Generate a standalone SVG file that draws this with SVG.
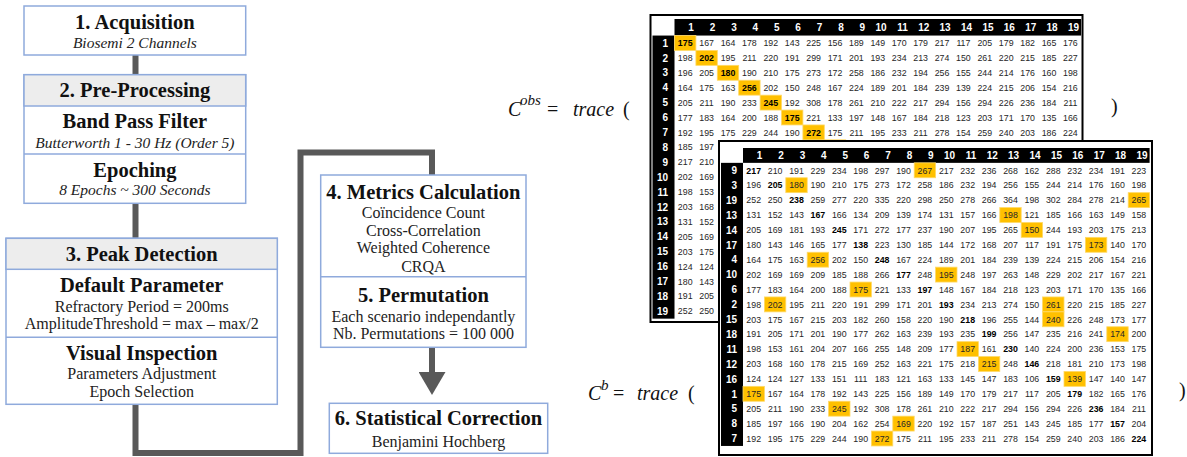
<svg xmlns="http://www.w3.org/2000/svg" width="1187" height="457" viewBox="0 0 1187 457">
<style>
.bx{fill:#fff;stroke:#8FAADC;stroke-width:1.5}
.hd{fill:#EDEDED;stroke:#8FAADC;stroke-width:1.5}
.dv{stroke:#8FAADC;stroke-width:1.5}
.t{font-family:"Liberation Serif",serif;font-weight:bold;font-size:20.5px;text-anchor:middle;fill:#111}
.s{font-family:"Liberation Serif",serif;font-style:italic;font-size:15.5px;text-anchor:middle;fill:#222}
.r{font-family:"Liberation Serif",serif;font-size:16px;text-anchor:middle;fill:#222}
.f{font-family:"Liberation Serif",serif;font-size:20px;fill:#111}
.i{font-style:italic}
.conn{stroke:#595959;stroke-width:6;fill:none;stroke-linejoin:miter}
.frame{fill:#fff;stroke:#000;stroke-width:2}
.blk{fill:#000}
.hl{fill:#FFC000;stroke:#FFD966;stroke-width:0.8}
.v{font-family:"Liberation Sans",Arial,sans-serif;font-size:8.8px;fill:#262626;text-anchor:middle}
.b{font-weight:bold;fill:#000}
.h{font-family:"Liberation Sans",Arial,sans-serif;font-weight:bold;font-size:10px;fill:#fff;text-anchor:end}
</style>
<defs>
<marker id="ah" markerUnits="userSpaceOnUse" viewBox="0 0 23 27" refX="0" refY="13.5" markerWidth="23" markerHeight="27" orient="auto">
<path d="M0,0 L23,13.5 L0,27 z" fill="#595959"/>
</marker>
</defs>

<g id="connectors">
<path class="conn" d="M135.5 55 V74.7"/>
<path class="conn" d="M135.5 203.3 V238.3"/>
<path class="conn" d="M135.5 404.3 V453 H300.5 V152.5 H432 V175"/>
<path class="conn" d="M432 347.3 V372" marker-end="url(#ah)"/>
</g>

<g id="node1">
<rect class="bx" x="24" y="6" width="221.7" height="49"/>
<text class="t" x="134.9" y="28.5">1. Acquisition</text>
<text class="s" x="134.9" y="47.5">Biosemi 2 Channels</text>
</g>

<g id="node2">
<rect class="bx" x="24" y="74.7" width="221.7" height="128.6"/>
<rect class="hd" x="24" y="74.7" width="221.7" height="31.3"/>
<line class="dv" x1="24" y1="154" x2="245.7" y2="154"/>
<text class="t" x="134.9" y="96.7">2. Pre-Processing</text>
<text class="t" x="134.9" y="128.3">Band Pass Filter</text>
<text class="s" x="134.9" y="147.5">Butterworth 1 - 30 Hz (Order 5)</text>
<text class="t" x="134.9" y="176.7">Epoching</text>
<text class="s" x="134.9" y="195">8 Epochs ~ 300 Seconds</text>
</g>

<g id="node3">
<rect class="bx" x="6" y="238.3" width="271.3" height="166"/>
<rect class="hd" x="6" y="238.3" width="271.3" height="31"/>
<line class="dv" x1="6" y1="337.3" x2="277.3" y2="337.3"/>
<text class="t" x="141.7" y="261">3. Peak Detection</text>
<text class="t" x="141.7" y="292.3">Default Parameter</text>
<text class="r" x="141.7" y="311.7">Refractory Period = 200ms</text>
<text class="r" x="141.7" y="329">AmplitudeThreshold = max – max/2</text>
<text class="t" x="141.7" y="360">Visual Inspection</text>
<text class="r" x="141.7" y="379">Parameters Adjustment</text>
<text class="r" x="141.7" y="397">Epoch Selection</text>
</g>

<g id="node4">
<rect class="bx" x="320.7" y="175" width="205.3" height="172.3"/>
<line class="dv" x1="320.7" y1="276.7" x2="526" y2="276.7"/>
<text class="t" x="423.4" y="199.3">4. Metrics Calculation</text>
<text class="r" x="423.4" y="218.3">Coïncidence Count</text>
<text class="r" x="423.4" y="235.7">Cross-Correlation</text>
<text class="r" x="423.4" y="253.3">Weighted Coherence</text>
<text class="r" x="423.4" y="271.7">CRQA</text>
<text class="t" x="423.4" y="301.7">5. Permutation</text>
<text class="r" x="423.4" y="321.7">Each scenario independantly</text>
<text class="r" x="423.4" y="339">Nb. Permutations = 100 000</text>
</g>

<g id="node6">
<rect class="bx" x="329.3" y="403.3" width="218.4" height="50"/>
<text class="t" x="438.5" y="425">6. Statistical Correction</text>
<text class="r" x="438.5" y="446.7">Benjamini Hochberg</text>
</g>

<g id="formula-obs">
<text class="f i" x="508" y="116">C</text>
<text class="f i" x="520" y="105" style="font-size:15px">obs</text>
<text class="f" x="547" y="116">=</text>
<text class="f i" x="573" y="116">trace</text>
<text class="f" x="623" y="116">(</text>
<text class="f" x="1111" y="113">)</text>
</g>

<g id="formula-b">
<text class="f i" x="588" y="400">C</text>
<text class="f i" x="601" y="390" style="font-size:15px">b</text>
<text class="f" x="613" y="400">=</text>
<text class="f i" x="637" y="400">trace</text>
<text class="f" x="688" y="400">(</text>
<text class="f" x="1179" y="397">)</text>
</g>

<g id="matrix-obs">
<rect class="frame" x="650.5" y="15" width="432" height="307"/>
<rect class="blk" x="674.5" y="19" width="406.6" height="16.55"/>
<rect class="blk" x="652.5" y="35.55" width="22" height="283.1"/>
<rect class="hl" x="674.5" y="35.55" width="21.4" height="14.9"/>
<rect class="hl" x="695.9" y="50.45" width="21.4" height="14.9"/>
<rect class="hl" x="717.3" y="65.35" width="21.4" height="14.9"/>
<rect class="hl" x="738.7" y="80.25" width="21.4" height="14.9"/>
<rect class="hl" x="760.1" y="95.15" width="21.4" height="14.9"/>
<rect class="hl" x="781.5" y="110.05" width="21.4" height="14.9"/>
<rect class="hl" x="802.9" y="124.95" width="21.4" height="14.9"/>
<rect class="hl" x="824.3" y="139.85" width="21.4" height="14.9"/>
<text class="h" y="30.8"><tspan x="693.9">1</tspan><tspan x="715.3">2</tspan><tspan x="736.7">3</tspan><tspan x="758.1">4</tspan><tspan x="779.5">5</tspan><tspan x="800.9">6</tspan><tspan x="822.3">7</tspan><tspan x="843.7">8</tspan><tspan x="865.1">9</tspan><tspan x="886.5">10</tspan><tspan x="907.9">11</tspan><tspan x="929.3">12</tspan><tspan x="950.7">13</tspan><tspan x="972.1">14</tspan><tspan x="993.5">15</tspan><tspan x="1014.9">16</tspan><tspan x="1036.3">17</tspan><tspan x="1057.7">18</tspan><tspan x="1079.1">19</tspan></text>
<text class="h"><tspan x="668" y="46.6">1</tspan><tspan x="668" y="61.5">2</tspan><tspan x="668" y="76.4">3</tspan><tspan x="668" y="91.3">4</tspan><tspan x="668" y="106.2">5</tspan><tspan x="668" y="121.1">6</tspan><tspan x="668" y="136">7</tspan><tspan x="668" y="150.9">8</tspan><tspan x="668" y="165.8">9</tspan><tspan x="668" y="180.7">10</tspan><tspan x="668" y="195.6">11</tspan><tspan x="668" y="210.5">12</tspan><tspan x="668" y="225.4">13</tspan><tspan x="668" y="240.3">14</tspan><tspan x="668" y="255.2">15</tspan><tspan x="668" y="270.1">16</tspan><tspan x="668" y="285">17</tspan><tspan x="668" y="299.9">18</tspan><tspan x="668" y="314.8">19</tspan></text>
<text class="v" y="46.1"><tspan x="685.2" class="b">175</tspan><tspan x="706.6">167</tspan><tspan x="728">164</tspan><tspan x="749.4">178</tspan><tspan x="770.8">192</tspan><tspan x="792.2">143</tspan><tspan x="813.6">225</tspan><tspan x="835">156</tspan><tspan x="856.4">189</tspan><tspan x="877.8">149</tspan><tspan x="899.2">170</tspan><tspan x="920.6">179</tspan><tspan x="942">217</tspan><tspan x="963.4">117</tspan><tspan x="984.8">205</tspan><tspan x="1006.2">179</tspan><tspan x="1027.6">182</tspan><tspan x="1049">165</tspan><tspan x="1070.4">176</tspan></text>
<text class="v" y="61"><tspan x="685.2">198</tspan><tspan x="706.6" class="b">202</tspan><tspan x="728">195</tspan><tspan x="749.4">211</tspan><tspan x="770.8">220</tspan><tspan x="792.2">191</tspan><tspan x="813.6">299</tspan><tspan x="835">171</tspan><tspan x="856.4">201</tspan><tspan x="877.8">193</tspan><tspan x="899.2">234</tspan><tspan x="920.6">213</tspan><tspan x="942">274</tspan><tspan x="963.4">150</tspan><tspan x="984.8">261</tspan><tspan x="1006.2">220</tspan><tspan x="1027.6">215</tspan><tspan x="1049">185</tspan><tspan x="1070.4">227</tspan></text>
<text class="v" y="75.9"><tspan x="685.2">196</tspan><tspan x="706.6">205</tspan><tspan x="728" class="b">180</tspan><tspan x="749.4">190</tspan><tspan x="770.8">210</tspan><tspan x="792.2">175</tspan><tspan x="813.6">273</tspan><tspan x="835">172</tspan><tspan x="856.4">258</tspan><tspan x="877.8">186</tspan><tspan x="899.2">232</tspan><tspan x="920.6">194</tspan><tspan x="942">256</tspan><tspan x="963.4">155</tspan><tspan x="984.8">244</tspan><tspan x="1006.2">214</tspan><tspan x="1027.6">176</tspan><tspan x="1049">160</tspan><tspan x="1070.4">198</tspan></text>
<text class="v" y="90.8"><tspan x="685.2">164</tspan><tspan x="706.6">175</tspan><tspan x="728">163</tspan><tspan x="749.4" class="b">256</tspan><tspan x="770.8">202</tspan><tspan x="792.2">150</tspan><tspan x="813.6">248</tspan><tspan x="835">167</tspan><tspan x="856.4">224</tspan><tspan x="877.8">189</tspan><tspan x="899.2">201</tspan><tspan x="920.6">184</tspan><tspan x="942">239</tspan><tspan x="963.4">139</tspan><tspan x="984.8">224</tspan><tspan x="1006.2">215</tspan><tspan x="1027.6">206</tspan><tspan x="1049">154</tspan><tspan x="1070.4">216</tspan></text>
<text class="v" y="105.7"><tspan x="685.2">205</tspan><tspan x="706.6">211</tspan><tspan x="728">190</tspan><tspan x="749.4">233</tspan><tspan x="770.8" class="b">245</tspan><tspan x="792.2">192</tspan><tspan x="813.6">308</tspan><tspan x="835">178</tspan><tspan x="856.4">261</tspan><tspan x="877.8">210</tspan><tspan x="899.2">222</tspan><tspan x="920.6">217</tspan><tspan x="942">294</tspan><tspan x="963.4">156</tspan><tspan x="984.8">294</tspan><tspan x="1006.2">226</tspan><tspan x="1027.6">236</tspan><tspan x="1049">184</tspan><tspan x="1070.4">211</tspan></text>
<text class="v" y="120.6"><tspan x="685.2">177</tspan><tspan x="706.6">183</tspan><tspan x="728">164</tspan><tspan x="749.4">200</tspan><tspan x="770.8">188</tspan><tspan x="792.2" class="b">175</tspan><tspan x="813.6">221</tspan><tspan x="835">133</tspan><tspan x="856.4">197</tspan><tspan x="877.8">148</tspan><tspan x="899.2">167</tspan><tspan x="920.6">184</tspan><tspan x="942">218</tspan><tspan x="963.4">123</tspan><tspan x="984.8">203</tspan><tspan x="1006.2">171</tspan><tspan x="1027.6">170</tspan><tspan x="1049">135</tspan><tspan x="1070.4">166</tspan></text>
<text class="v" y="135.5"><tspan x="685.2">192</tspan><tspan x="706.6">195</tspan><tspan x="728">175</tspan><tspan x="749.4">229</tspan><tspan x="770.8">244</tspan><tspan x="792.2">190</tspan><tspan x="813.6" class="b">272</tspan><tspan x="835">175</tspan><tspan x="856.4">211</tspan><tspan x="877.8">195</tspan><tspan x="899.2">233</tspan><tspan x="920.6">211</tspan><tspan x="942">278</tspan><tspan x="963.4">154</tspan><tspan x="984.8">259</tspan><tspan x="1006.2">240</tspan><tspan x="1027.6">203</tspan><tspan x="1049">186</tspan><tspan x="1070.4">224</tspan></text>
<text class="v"><tspan x="685.2" y="150.4">185</tspan><tspan x="706.6" y="150.4">197</tspan><tspan x="685.2" y="165.3">217</tspan><tspan x="706.6" y="165.3">210</tspan><tspan x="685.2" y="180.2">202</tspan><tspan x="706.6" y="180.2">169</tspan><tspan x="685.2" y="195.1">198</tspan><tspan x="706.6" y="195.1">153</tspan><tspan x="685.2" y="210">203</tspan><tspan x="706.6" y="210">168</tspan><tspan x="685.2" y="224.9">131</tspan><tspan x="706.6" y="224.9">152</tspan><tspan x="685.2" y="239.8">205</tspan><tspan x="706.6" y="239.8">169</tspan><tspan x="685.2" y="254.7">203</tspan><tspan x="706.6" y="254.7">175</tspan><tspan x="685.2" y="269.6">124</tspan><tspan x="706.6" y="269.6">124</tspan><tspan x="685.2" y="284.5">180</tspan><tspan x="706.6" y="284.5">143</tspan><tspan x="685.2" y="299.4">191</tspan><tspan x="706.6" y="299.4">205</tspan><tspan x="685.2" y="314.3">252</tspan><tspan x="706.6" y="314.3">250</tspan></text>
</g>

<g id="matrix-b">
<rect class="frame" x="719" y="141" width="433" height="314"/>
<rect class="blk" x="743" y="148" width="406.6" height="14.85"/>
<rect class="blk" x="721" y="162.85" width="22" height="283.1"/>
<rect class="hl" x="914.2" y="162.85" width="21.4" height="14.9"/>
<rect class="hl" x="785.8" y="177.75" width="21.4" height="14.9"/>
<rect class="hl" x="1128.2" y="192.65" width="21.4" height="14.9"/>
<rect class="hl" x="999.8" y="207.55" width="21.4" height="14.9"/>
<rect class="hl" x="1021.2" y="222.45" width="21.4" height="14.9"/>
<rect class="hl" x="1085.4" y="237.35" width="21.4" height="14.9"/>
<rect class="hl" x="807.2" y="252.25" width="21.4" height="14.9"/>
<rect class="hl" x="935.6" y="267.15" width="21.4" height="14.9"/>
<rect class="hl" x="850" y="282.05" width="21.4" height="14.9"/>
<rect class="hl" x="764.4" y="296.95" width="21.4" height="14.9"/>
<rect class="hl" x="1042.6" y="296.95" width="21.4" height="14.9"/>
<rect class="hl" x="1042.6" y="311.85" width="21.4" height="14.9"/>
<rect class="hl" x="1106.8" y="326.75" width="21.4" height="14.9"/>
<rect class="hl" x="957" y="341.65" width="21.4" height="14.9"/>
<rect class="hl" x="978.4" y="356.55" width="21.4" height="14.9"/>
<rect class="hl" x="1064" y="371.45" width="21.4" height="14.9"/>
<rect class="hl" x="743" y="386.35" width="21.4" height="14.9"/>
<rect class="hl" x="828.6" y="401.25" width="21.4" height="14.9"/>
<rect class="hl" x="892.8" y="416.15" width="21.4" height="14.9"/>
<rect class="hl" x="871.4" y="431.05" width="21.4" height="14.9"/>
<text class="h" y="159"><tspan x="762.4">1</tspan><tspan x="783.8">2</tspan><tspan x="805.2">3</tspan><tspan x="826.6">4</tspan><tspan x="848">5</tspan><tspan x="869.4">6</tspan><tspan x="890.8">7</tspan><tspan x="912.2">8</tspan><tspan x="933.6">9</tspan><tspan x="955">10</tspan><tspan x="976.4">11</tspan><tspan x="997.8">12</tspan><tspan x="1019.2">13</tspan><tspan x="1040.6">14</tspan><tspan x="1062">15</tspan><tspan x="1083.4">16</tspan><tspan x="1104.8">17</tspan><tspan x="1126.2">18</tspan><tspan x="1147.6">19</tspan></text>
<text class="h"><tspan x="737" y="174">9</tspan><tspan x="737" y="188.9">3</tspan><tspan x="737" y="203.8">19</tspan><tspan x="737" y="218.7">13</tspan><tspan x="737" y="233.6">14</tspan><tspan x="737" y="248.5">17</tspan><tspan x="737" y="263.4">4</tspan><tspan x="737" y="278.3">10</tspan><tspan x="737" y="293.2">6</tspan><tspan x="737" y="308.1">2</tspan><tspan x="737" y="323">15</tspan><tspan x="737" y="337.9">18</tspan><tspan x="737" y="352.8">11</tspan><tspan x="737" y="367.7">12</tspan><tspan x="737" y="382.6">16</tspan><tspan x="737" y="397.5">1</tspan><tspan x="737" y="412.4">5</tspan><tspan x="737" y="427.3">8</tspan><tspan x="737" y="442.2">7</tspan></text>
<text class="v" y="173.5"><tspan x="753.7" class="b">217</tspan><tspan x="775.1">210</tspan><tspan x="796.5">191</tspan><tspan x="817.9">229</tspan><tspan x="839.3">234</tspan><tspan x="860.7">198</tspan><tspan x="882.1">297</tspan><tspan x="903.5">190</tspan><tspan x="924.9">267</tspan><tspan x="946.3">217</tspan><tspan x="967.7">232</tspan><tspan x="989.1">236</tspan><tspan x="1010.5">268</tspan><tspan x="1031.9">162</tspan><tspan x="1053.3">288</tspan><tspan x="1074.7">232</tspan><tspan x="1096.1">234</tspan><tspan x="1117.5">191</tspan><tspan x="1138.9">223</tspan></text>
<text class="v" y="188.4"><tspan x="753.7">196</tspan><tspan x="775.1" class="b">205</tspan><tspan x="796.5">180</tspan><tspan x="817.9">190</tspan><tspan x="839.3">210</tspan><tspan x="860.7">175</tspan><tspan x="882.1">273</tspan><tspan x="903.5">172</tspan><tspan x="924.9">258</tspan><tspan x="946.3">186</tspan><tspan x="967.7">232</tspan><tspan x="989.1">194</tspan><tspan x="1010.5">256</tspan><tspan x="1031.9">155</tspan><tspan x="1053.3">244</tspan><tspan x="1074.7">214</tspan><tspan x="1096.1">176</tspan><tspan x="1117.5">160</tspan><tspan x="1138.9">198</tspan></text>
<text class="v" y="203.3"><tspan x="753.7">252</tspan><tspan x="775.1">250</tspan><tspan x="796.5" class="b">238</tspan><tspan x="817.9">259</tspan><tspan x="839.3">277</tspan><tspan x="860.7">220</tspan><tspan x="882.1">335</tspan><tspan x="903.5">220</tspan><tspan x="924.9">298</tspan><tspan x="946.3">250</tspan><tspan x="967.7">278</tspan><tspan x="989.1">266</tspan><tspan x="1010.5">364</tspan><tspan x="1031.9">198</tspan><tspan x="1053.3">302</tspan><tspan x="1074.7">284</tspan><tspan x="1096.1">278</tspan><tspan x="1117.5">214</tspan><tspan x="1138.9">265</tspan></text>
<text class="v" y="218.2"><tspan x="753.7">131</tspan><tspan x="775.1">152</tspan><tspan x="796.5">143</tspan><tspan x="817.9" class="b">167</tspan><tspan x="839.3">166</tspan><tspan x="860.7">134</tspan><tspan x="882.1">209</tspan><tspan x="903.5">139</tspan><tspan x="924.9">174</tspan><tspan x="946.3">131</tspan><tspan x="967.7">157</tspan><tspan x="989.1">166</tspan><tspan x="1010.5">198</tspan><tspan x="1031.9">121</tspan><tspan x="1053.3">185</tspan><tspan x="1074.7">166</tspan><tspan x="1096.1">163</tspan><tspan x="1117.5">149</tspan><tspan x="1138.9">158</tspan></text>
<text class="v" y="233.1"><tspan x="753.7">205</tspan><tspan x="775.1">169</tspan><tspan x="796.5">181</tspan><tspan x="817.9">193</tspan><tspan x="839.3" class="b">245</tspan><tspan x="860.7">171</tspan><tspan x="882.1">272</tspan><tspan x="903.5">177</tspan><tspan x="924.9">237</tspan><tspan x="946.3">190</tspan><tspan x="967.7">207</tspan><tspan x="989.1">195</tspan><tspan x="1010.5">265</tspan><tspan x="1031.9">150</tspan><tspan x="1053.3">244</tspan><tspan x="1074.7">193</tspan><tspan x="1096.1">203</tspan><tspan x="1117.5">175</tspan><tspan x="1138.9">213</tspan></text>
<text class="v" y="248"><tspan x="753.7">180</tspan><tspan x="775.1">143</tspan><tspan x="796.5">146</tspan><tspan x="817.9">165</tspan><tspan x="839.3">177</tspan><tspan x="860.7" class="b">138</tspan><tspan x="882.1">223</tspan><tspan x="903.5">130</tspan><tspan x="924.9">185</tspan><tspan x="946.3">144</tspan><tspan x="967.7">172</tspan><tspan x="989.1">168</tspan><tspan x="1010.5">207</tspan><tspan x="1031.9">117</tspan><tspan x="1053.3">191</tspan><tspan x="1074.7">175</tspan><tspan x="1096.1">173</tspan><tspan x="1117.5">140</tspan><tspan x="1138.9">170</tspan></text>
<text class="v" y="262.9"><tspan x="753.7">164</tspan><tspan x="775.1">175</tspan><tspan x="796.5">163</tspan><tspan x="817.9">256</tspan><tspan x="839.3">202</tspan><tspan x="860.7">150</tspan><tspan x="882.1" class="b">248</tspan><tspan x="903.5">167</tspan><tspan x="924.9">224</tspan><tspan x="946.3">189</tspan><tspan x="967.7">201</tspan><tspan x="989.1">184</tspan><tspan x="1010.5">239</tspan><tspan x="1031.9">139</tspan><tspan x="1053.3">224</tspan><tspan x="1074.7">215</tspan><tspan x="1096.1">206</tspan><tspan x="1117.5">154</tspan><tspan x="1138.9">216</tspan></text>
<text class="v" y="277.8"><tspan x="753.7">202</tspan><tspan x="775.1">169</tspan><tspan x="796.5">169</tspan><tspan x="817.9">209</tspan><tspan x="839.3">185</tspan><tspan x="860.7">188</tspan><tspan x="882.1">266</tspan><tspan x="903.5" class="b">177</tspan><tspan x="924.9">248</tspan><tspan x="946.3">195</tspan><tspan x="967.7">248</tspan><tspan x="989.1">197</tspan><tspan x="1010.5">263</tspan><tspan x="1031.9">148</tspan><tspan x="1053.3">229</tspan><tspan x="1074.7">202</tspan><tspan x="1096.1">217</tspan><tspan x="1117.5">167</tspan><tspan x="1138.9">221</tspan></text>
<text class="v" y="292.7"><tspan x="753.7">177</tspan><tspan x="775.1">183</tspan><tspan x="796.5">164</tspan><tspan x="817.9">200</tspan><tspan x="839.3">188</tspan><tspan x="860.7">175</tspan><tspan x="882.1">221</tspan><tspan x="903.5">133</tspan><tspan x="924.9" class="b">197</tspan><tspan x="946.3">148</tspan><tspan x="967.7">167</tspan><tspan x="989.1">184</tspan><tspan x="1010.5">218</tspan><tspan x="1031.9">123</tspan><tspan x="1053.3">203</tspan><tspan x="1074.7">171</tspan><tspan x="1096.1">170</tspan><tspan x="1117.5">135</tspan><tspan x="1138.9">166</tspan></text>
<text class="v" y="307.6"><tspan x="753.7">198</tspan><tspan x="775.1">202</tspan><tspan x="796.5">195</tspan><tspan x="817.9">211</tspan><tspan x="839.3">220</tspan><tspan x="860.7">191</tspan><tspan x="882.1">299</tspan><tspan x="903.5">171</tspan><tspan x="924.9">201</tspan><tspan x="946.3" class="b">193</tspan><tspan x="967.7">234</tspan><tspan x="989.1">213</tspan><tspan x="1010.5">274</tspan><tspan x="1031.9">150</tspan><tspan x="1053.3">261</tspan><tspan x="1074.7">220</tspan><tspan x="1096.1">215</tspan><tspan x="1117.5">185</tspan><tspan x="1138.9">227</tspan></text>
<text class="v" y="322.5"><tspan x="753.7">203</tspan><tspan x="775.1">175</tspan><tspan x="796.5">167</tspan><tspan x="817.9">215</tspan><tspan x="839.3">203</tspan><tspan x="860.7">182</tspan><tspan x="882.1">260</tspan><tspan x="903.5">158</tspan><tspan x="924.9">220</tspan><tspan x="946.3">190</tspan><tspan x="967.7" class="b">218</tspan><tspan x="989.1">196</tspan><tspan x="1010.5">255</tspan><tspan x="1031.9">144</tspan><tspan x="1053.3">240</tspan><tspan x="1074.7">226</tspan><tspan x="1096.1">248</tspan><tspan x="1117.5">173</tspan><tspan x="1138.9">177</tspan></text>
<text class="v" y="337.4"><tspan x="753.7">191</tspan><tspan x="775.1">205</tspan><tspan x="796.5">171</tspan><tspan x="817.9">201</tspan><tspan x="839.3">190</tspan><tspan x="860.7">177</tspan><tspan x="882.1">262</tspan><tspan x="903.5">163</tspan><tspan x="924.9">239</tspan><tspan x="946.3">193</tspan><tspan x="967.7">235</tspan><tspan x="989.1" class="b">199</tspan><tspan x="1010.5">256</tspan><tspan x="1031.9">147</tspan><tspan x="1053.3">235</tspan><tspan x="1074.7">216</tspan><tspan x="1096.1">241</tspan><tspan x="1117.5">174</tspan><tspan x="1138.9">200</tspan></text>
<text class="v" y="352.3"><tspan x="753.7">198</tspan><tspan x="775.1">153</tspan><tspan x="796.5">161</tspan><tspan x="817.9">204</tspan><tspan x="839.3">207</tspan><tspan x="860.7">166</tspan><tspan x="882.1">255</tspan><tspan x="903.5">148</tspan><tspan x="924.9">209</tspan><tspan x="946.3">177</tspan><tspan x="967.7">187</tspan><tspan x="989.1">161</tspan><tspan x="1010.5" class="b">230</tspan><tspan x="1031.9">140</tspan><tspan x="1053.3">224</tspan><tspan x="1074.7">200</tspan><tspan x="1096.1">236</tspan><tspan x="1117.5">153</tspan><tspan x="1138.9">175</tspan></text>
<text class="v" y="367.2"><tspan x="753.7">203</tspan><tspan x="775.1">168</tspan><tspan x="796.5">160</tspan><tspan x="817.9">178</tspan><tspan x="839.3">215</tspan><tspan x="860.7">169</tspan><tspan x="882.1">252</tspan><tspan x="903.5">163</tspan><tspan x="924.9">221</tspan><tspan x="946.3">175</tspan><tspan x="967.7">218</tspan><tspan x="989.1">215</tspan><tspan x="1010.5">248</tspan><tspan x="1031.9" class="b">146</tspan><tspan x="1053.3">218</tspan><tspan x="1074.7">181</tspan><tspan x="1096.1">210</tspan><tspan x="1117.5">173</tspan><tspan x="1138.9">198</tspan></text>
<text class="v" y="382.1"><tspan x="753.7">124</tspan><tspan x="775.1">124</tspan><tspan x="796.5">127</tspan><tspan x="817.9">133</tspan><tspan x="839.3">151</tspan><tspan x="860.7">111</tspan><tspan x="882.1">183</tspan><tspan x="903.5">121</tspan><tspan x="924.9">163</tspan><tspan x="946.3">133</tspan><tspan x="967.7">145</tspan><tspan x="989.1">147</tspan><tspan x="1010.5">183</tspan><tspan x="1031.9">106</tspan><tspan x="1053.3" class="b">159</tspan><tspan x="1074.7">139</tspan><tspan x="1096.1">147</tspan><tspan x="1117.5">140</tspan><tspan x="1138.9">147</tspan></text>
<text class="v" y="397"><tspan x="753.7">175</tspan><tspan x="775.1">167</tspan><tspan x="796.5">164</tspan><tspan x="817.9">178</tspan><tspan x="839.3">192</tspan><tspan x="860.7">143</tspan><tspan x="882.1">225</tspan><tspan x="903.5">156</tspan><tspan x="924.9">189</tspan><tspan x="946.3">149</tspan><tspan x="967.7">170</tspan><tspan x="989.1">179</tspan><tspan x="1010.5">217</tspan><tspan x="1031.9">117</tspan><tspan x="1053.3">205</tspan><tspan x="1074.7" class="b">179</tspan><tspan x="1096.1">182</tspan><tspan x="1117.5">165</tspan><tspan x="1138.9">176</tspan></text>
<text class="v" y="411.9"><tspan x="753.7">205</tspan><tspan x="775.1">211</tspan><tspan x="796.5">190</tspan><tspan x="817.9">233</tspan><tspan x="839.3">245</tspan><tspan x="860.7">192</tspan><tspan x="882.1">308</tspan><tspan x="903.5">178</tspan><tspan x="924.9">261</tspan><tspan x="946.3">210</tspan><tspan x="967.7">222</tspan><tspan x="989.1">217</tspan><tspan x="1010.5">294</tspan><tspan x="1031.9">156</tspan><tspan x="1053.3">294</tspan><tspan x="1074.7">226</tspan><tspan x="1096.1" class="b">236</tspan><tspan x="1117.5">184</tspan><tspan x="1138.9">211</tspan></text>
<text class="v" y="426.8"><tspan x="753.7">185</tspan><tspan x="775.1">197</tspan><tspan x="796.5">166</tspan><tspan x="817.9">190</tspan><tspan x="839.3">204</tspan><tspan x="860.7">162</tspan><tspan x="882.1">254</tspan><tspan x="903.5">169</tspan><tspan x="924.9">220</tspan><tspan x="946.3">192</tspan><tspan x="967.7">157</tspan><tspan x="989.1">187</tspan><tspan x="1010.5">251</tspan><tspan x="1031.9">143</tspan><tspan x="1053.3">245</tspan><tspan x="1074.7">185</tspan><tspan x="1096.1">177</tspan><tspan x="1117.5" class="b">157</tspan><tspan x="1138.9">204</tspan></text>
<text class="v" y="441.7"><tspan x="753.7">192</tspan><tspan x="775.1">195</tspan><tspan x="796.5">175</tspan><tspan x="817.9">229</tspan><tspan x="839.3">244</tspan><tspan x="860.7">190</tspan><tspan x="882.1">272</tspan><tspan x="903.5">175</tspan><tspan x="924.9">211</tspan><tspan x="946.3">195</tspan><tspan x="967.7">233</tspan><tspan x="989.1">211</tspan><tspan x="1010.5">278</tspan><tspan x="1031.9">154</tspan><tspan x="1053.3">259</tspan><tspan x="1074.7">240</tspan><tspan x="1096.1">203</tspan><tspan x="1117.5">186</tspan><tspan x="1138.9" class="b">224</tspan></text>
</g>
</svg>
